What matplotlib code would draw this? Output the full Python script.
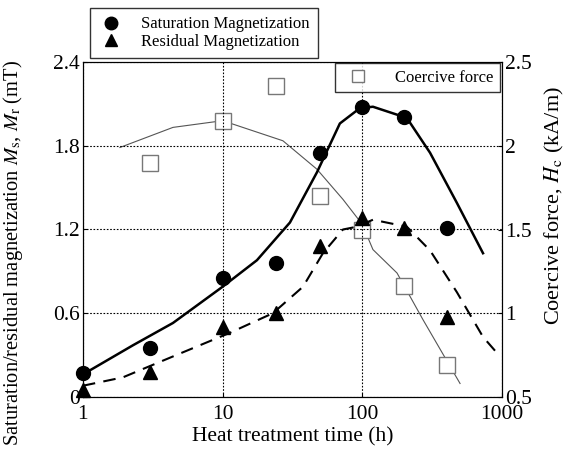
"""Heat treatment time vs magnetization and coercive force (dual y axes)."""

import matplotlib
matplotlib.use("Agg")
import matplotlib.pyplot as plt
from matplotlib.ticker import FixedLocator, NullLocator

plt.rcParams["font.family"] = ["Liberation Serif", "DejaVu Serif"]
plt.rcParams["mathtext.fontset"] = "stix"

# ------------------------------------------------------------
# measured data
# ------------------------------------------------------------
time_h = [1, 3, 10, 24, 50, 100, 200, 400]
ms_vals = [0.17, 0.35, 0.85, 0.96, 1.75, 2.08, 2.01, 1.21]
mr_vals = [0.05, 0.18, 0.50, 0.60, 1.08, 1.28, 1.21, 0.57]

hc_time = [3, 10, 24, 50, 100, 200, 400]
hc_vals = [1.90, 2.15, 2.36, 1.70, 1.50, 1.16, 0.69]

# fitted curves
ms_fit_t = [1, 1.12, 2.28, 4.41, 10, 17.6, 30.3, 47.3, 69, 96, 119, 208, 305, 475, 730]
ms_fit_v = [0.17, 0.19, 0.37, 0.53, 0.79, 0.98, 1.25, 1.61, 1.96, 2.07, 2.08, 2.00, 1.75, 1.39, 1.03]

mr_fit_t = [1, 1.93, 4.41, 11.3, 22.9, 37.6, 52.2, 72.6, 91.5, 119, 208, 305, 475, 730, 966]
mr_fit_v = [0.08, 0.14, 0.29, 0.46, 0.60, 0.79, 1.03, 1.20, 1.22, 1.27, 1.22, 1.05, 0.75, 0.43, 0.29]

hc_fit_t = [1.84, 4.41, 10, 27, 47.3, 72.6, 100, 119, 177, 272, 500]
hc_fit_v = [1.99, 2.11, 2.15, 2.03, 1.86, 1.68, 1.53, 1.38, 1.24, 0.96, 0.58]

# ------------------------------------------------------------
fig = plt.figure(figsize=(5.68, 4.5), dpi=100)
ax = fig.add_axes([0.146, 0.118, 0.738, 0.744])
ax2 = ax.twinx()

ax.plot(ms_fit_t, ms_fit_v, color="black", lw=1.8, zorder=2)
ax.plot(mr_fit_t, mr_fit_v, color="black", lw=1.5, ls=(0, (6, 4)), zorder=2)
ax2.plot(hc_fit_t, hc_fit_v, color="#555555", lw=0.8, zorder=2)

l1, = ax.plot(time_h, ms_vals, "o", color="black", ms=10, ls="none", zorder=3,
              clip_on=False, label="Saturation Magnetization")
l2, = ax.plot(time_h, mr_vals, "^", color="black", ms=10, ls="none", zorder=3,
              clip_on=False, label="Residual Magnetization")
l3, = ax2.plot(hc_time, hc_vals, "s", mfc="white", mec="#777777", mew=1.0, ms=11,
               ls="none", zorder=3, label="Coercive force")

ax.set_xscale("log")
ax.set_xlim(1, 1000)
ax.set_ylim(0, 2.4)
ax2.set_ylim(0.5, 2.5)

ax.xaxis.set_major_locator(FixedLocator([1, 10, 100, 1000]))
ax.xaxis.set_minor_locator(NullLocator())
ax.set_xticklabels(["1", "10", "100", "1000"])
ax.set_yticks([0, 0.6, 1.2, 1.8, 2.4])
ax.set_yticklabels(["0", "0.6", "1.2", "1.8", "2.4"])
ax2.set_yticks([0.5, 1, 1.5, 2, 2.5])
ax2.set_yticklabels(["0.5", "1", "1.5", "2", "2.5"])

ax.grid(True, color="black", ls=(0, (1.5, 1.5)), lw=0.8)
ax.tick_params(direction="in", length=3, labelsize=15.5, pad=2)
ax.tick_params(axis="x", pad=6)
ax2.tick_params(direction="in", length=3, labelsize=15.5, pad=2)

ax.set_xlabel("Heat treatment time (h)", fontsize=15.5)
ax.xaxis.set_label_coords(0.5, -0.092)
ax.set_ylabel("Saturation/residual magnetization $M_\\mathrm{s}$, $M_\\mathrm{r}$ (mT)",
              fontsize=14.8)
ax.yaxis.set_label_coords(-0.138, 0.43)
ax2.set_ylabel("Coercive force, $H_\\mathrm{c}$ (kA/m)", fontsize=16)
ax2.yaxis.set_label_coords(1.097, 0.57)

ax.set_zorder(ax2.get_zorder() + 1)
ax.patch.set_visible(False)

leg1 = fig.legend(handles=[l1, l2], loc="upper left", bbox_to_anchor=(0.158, 0.982),
                  fontsize=12, frameon=True, fancybox=False, edgecolor="black",
                  handletextpad=1.0, labelspacing=0.1, borderpad=0.5,
                  handlelength=1.6, markerscale=0.9, borderaxespad=0)
leg1.get_frame().set_linewidth(1.0)

leg2 = ax.legend(handles=[l3], loc="upper right", bbox_to_anchor=(0.995, 0.997),
                 fontsize=12, frameon=True, fancybox=False, edgecolor="black",
                 handletextpad=1.2, borderpad=0.4, handlelength=2.0, markerscale=0.8,
                 borderaxespad=0)
leg2.get_frame().set_linewidth(1.0)
leg2.set_zorder(5)

fig.savefig("out.png", dpi=100)
